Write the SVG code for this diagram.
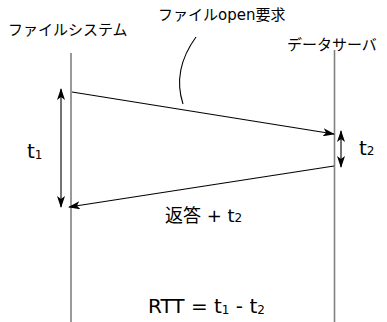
<svg xmlns="http://www.w3.org/2000/svg" width="387" height="322" viewBox="0 0 387 322">
<defs>
<style>
.t{font-family:"DejaVu Sans","Noto Sans CJK JP",sans-serif;fill:#000}
.jp{font-family:"Noto Sans CJK JP","DejaVu Sans",sans-serif;font-size:15px;fill:#000}
.life{stroke:#808080;stroke-width:1.6;fill:none}
.msg{stroke:#000;stroke-width:1.1;fill:none}
</style>
<marker id="ah" viewBox="0 0 12 8" refX="11" refY="4" markerWidth="12" markerHeight="8" markerUnits="userSpaceOnUse" orient="auto-start-reverse">
<path d="M0,0 L12,4 L0,8 L3,4 z" fill="#000"/>
</marker>
</defs>
<rect width="387" height="322" fill="#fff"/>
<g id="filesystem">
<text class="jp" x="8" y="35">ファイルシステム</text>
<line class="life" x1="71" y1="53" x2="71" y2="322"/>
</g>
<g id="dataserver">
<text class="jp" x="287" y="50" font-size="16">データサーバ</text>
<line class="life" x1="334.5" y1="50" x2="334.5" y2="322"/>
</g>
<g id="connectors">
<line class="msg" x1="72" y1="92" x2="334" y2="134" marker-end="url(#ah)"/>
<line class="msg" x1="334" y1="166" x2="69" y2="207" marker-end="url(#ah)"/>
<line class="msg" x1="61" y1="89" x2="61" y2="207" marker-start="url(#ah)" marker-end="url(#ah)"/>
<line class="msg" x1="341" y1="131" x2="341" y2="167" marker-start="url(#ah)" marker-end="url(#ah)"/>
<path class="msg" d="M196,37 Q172,70 183,104"/>
</g>
<g id="labels">
<text class="jp" x="158" y="20" font-size="16">ファイル<tspan font-family="DejaVu Sans">open</tspan>要求</text>
<text class="t" x="27" y="158" font-size="20">t<tspan font-size="12" dy="1">1</tspan></text>
<text class="t" x="359" y="155" font-size="20">t<tspan font-size="12" dy="0">2</tspan></text>
<text class="t" x="165" y="222" font-size="18"><tspan font-family="Noto Sans CJK JP">返答</tspan> + t<tspan font-size="12">2</tspan></text>
<text class="t" x="148" y="313" font-size="20">RTT = t<tspan font-size="12" dy="1">1</tspan><tspan dy="-1"> - t</tspan><tspan font-size="12" dy="1">2</tspan></text>
</g>
</svg>
